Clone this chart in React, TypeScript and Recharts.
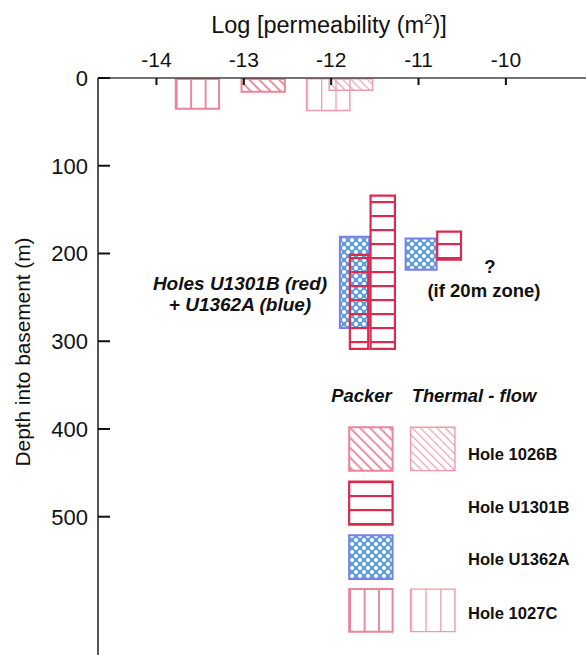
import React from 'react';
import { ScatterChart, Scatter, XAxis, YAxis, ReferenceArea, Customized } from 'recharts';

// axis setup (log permeability, depth)
const xTicks = [-14, -13, -12, -11, -10];
const yTicks = [0, 100, 200, 300, 400, 500];
const xDomain: [number, number] = [-14.669, -9.083];
const yDomain: [number, number] = [0, 657.6];

// measured intervals: log k range (k1..k2) and depth range (d1..d2)
const packer1027C = [{ k1: -13.779, k2: -13.283, d1: 1, d2: 35 }];
const packer1026B = [{ k1: -13.026, k2: -12.53, d1: 1, d2: 15.6 }];
const thermal1027C = [{ k1: -12.282, k2: -11.786, d1: 1, d2: 37 }];
const thermal1026B = [{ k1: -12.023, k2: -11.526, d1: 1, d2: 14 }];
const packerU1362A = [
  { k1: -11.9, k2: -11.565, d1: 181, d2: 285 },
  { k1: -11.148, k2: -10.793, d1: 183, d2: 218.6 },
];
const packerU1301B = [
  { k1: -11.786, k2: -11.576, d1: 201.5, d2: 308.6 },
  { k1: -11.549, k2: -11.27, d1: 134, d2: 308.6 },
  { k1: -10.786, k2: -10.514, d1: 175, d2: 207 },
];

// legend
const legendHoles = ['Hole 1026B', 'Hole U1301B', 'Hole U1362A', 'Hole 1027C'];
const legendDepths = [
  [398, 447.5],
  [460, 509],
  [521, 571],
  [582.5, 631],
];
const legendPackerK: [number, number] = [-11.794, -11.297];
const legendThermalK: [number, number] = [-11.091, -10.583];

const RED = '#d92a50';
const BLUE = '#7a7ff0';
const BLUEFILL = '#629fd6';
const PINK = '#ec8599';
const PINK_T = '#f09aac';

const styles: Record<string, { fill: string; stroke: string; strokeWidth: number }> = {
  p1026: { fill: 'url(#pat1026P)', stroke: PINK, strokeWidth: 2 },
  t1026: { fill: 'url(#pat1026T)', stroke: PINK_T, strokeWidth: 1.4 },
  p1301: { fill: 'url(#pat1301)', stroke: RED, strokeWidth: 2.2 },
  p1362: { fill: 'url(#pat1362)', stroke: BLUE, strokeWidth: 2 },
  p1027: { fill: 'url(#pat1027P)', stroke: PINK, strokeWidth: 2 },
  t1027: { fill: 'url(#pat1027T)', stroke: PINK_T, strokeWidth: 1.4 },
};

const legendPacker = ['p1026', 'p1301', 'p1362', 'p1027'];
const legendThermal = ['t1026', null, null, 't1027'];

const FONT = '"Liberation Sans", Arial, Helvetica, sans-serif';

// anchor points so the axes have data (not drawn)
const anchorPoints = [
  ...packer1027C, ...packer1026B, ...thermal1027C, ...thermal1026B, ...packerU1362A, ...packerU1301B,
].map((b) => ({ k: (b.k1 + b.k2) / 2, d: (b.d1 + b.d2) / 2 }));

const area = (b: { k1: number; k2: number; d1: number; d2: number }, key: string, st: string) => (
  <ReferenceArea
    key={key}
    x1={b.k1}
    x2={b.k2}
    y1={b.d1}
    y2={b.d2}
    fill={styles[st].fill}
    fillOpacity={1}
    stroke={styles[st].stroke}
    strokeWidth={styles[st].strokeWidth}
    ifOverflow="visible"
  />
);

const Texts = () => (
  <g style={{ fontFamily: FONT }}>
    <text x={329} y={33} textAnchor="middle" fontSize={23.5} fill="#111">
      Log [permeability (m<tspan fontSize={15} dy={-9}>2</tspan>
      <tspan dy={9}>)]</tspan>
    </text>
    <text
      x={30}
      y={352}
      textAnchor="middle"
      fontSize={20.8}
      fill="#111"
      transform="rotate(-90 30 352)"
    >
      Depth into basement (m)
    </text>
    <text x={240} y={290} textAnchor="middle" fontSize={19} fontWeight="bold" fontStyle="italic" fill="#111">
      Holes U1301B (red)
    </text>
    <text x={240} y={311} textAnchor="middle" fontSize={19} fontWeight="bold" fontStyle="italic" fill="#111">
      + U1362A (blue)
    </text>
    <text x={490} y={273} textAnchor="middle" fontSize={18.5} fontWeight="bold" fill="#111">
      ?
    </text>
    <text x={484} y={297} textAnchor="middle" fontSize={18.5} fontWeight="bold" fill="#111">
      (if 20m zone)
    </text>
    <text x={361.5} y={402} textAnchor="middle" fontSize={18.4} fontWeight="bold" fontStyle="italic" fill="#111">
      Packer
    </text>
    <text x={474} y={402} textAnchor="middle" fontSize={18.4} fontWeight="bold" fontStyle="italic" fill="#111">
      Thermal - flow
    </text>
    {legendHoles.map((h, i) => (
      <text key={h} x={468} y={[460, 513, 565, 619][i]} fontSize={16.6} fontWeight="bold" fill="#111">
        {h}
      </text>
    ))}
  </g>
);

export default function App() {
  return (
    <div style={{ position: 'absolute', left: 0, top: 0, width: 586, height: 655, background: '#fff' }}>
      <ScatterChart
        width={586}
        height={655}
        margin={{ top: 48, right: 0, bottom: 0, left: 0 }}
        style={{ fontFamily: FONT }}
      >
        <defs>
          <pattern id="pat1026P" patternUnits="userSpaceOnUse" width={7} height={7} patternTransform="rotate(-45)">
            <rect x={0} y={0} width={1.8} height={7} fill={PINK} />
          </pattern>
          <pattern id="pat1026T" patternUnits="userSpaceOnUse" width={5.8} height={5.8} patternTransform="rotate(-45)">
            <rect x={0} y={0} width={1.1} height={5.8} fill={PINK_T} />
          </pattern>
          <pattern id="pat1301" patternUnits="userSpaceOnUse" width={10} height={14}>
            <rect x={0} y={5} width={10} height={2.2} fill={RED} />
          </pattern>
          <pattern id="pat1362" patternUnits="userSpaceOnUse" width={8} height={8}>
            <rect x={0} y={0} width={8} height={8} fill={BLUEFILL} />
            <circle cx={0} cy={0} r={2} fill="#fff" />
            <circle cx={8} cy={0} r={2} fill="#fff" />
            <circle cx={0} cy={8} r={2} fill="#fff" />
            <circle cx={8} cy={8} r={2} fill="#fff" />
            <circle cx={4} cy={4} r={2} fill="#fff" />
          </pattern>
          <pattern id="pat1027P" patternUnits="objectBoundingBox" width={1 / 3} height={1}>
            <rect x={0} y={0} width={1.9} height={1000} fill={PINK} />
          </pattern>
          <pattern id="pat1027T" patternUnits="objectBoundingBox" width={1 / 3} height={1}>
            <rect x={0} y={0} width={1.3} height={1000} fill={PINK_T} />
          </pattern>
        </defs>
        <XAxis
          xAxisId={0}
          dataKey="k"
          type="number"
          orientation="top"
          domain={xDomain}
          ticks={xTicks}
          allowDataOverflow
          height={30}
          tickSize={-7}
          tickMargin={18}
          axisLine={{ stroke: '#444', strokeWidth: 1.6 }}
          tickLine={{ stroke: '#111', strokeWidth: 2 }}
          tick={{ fontSize: 21, fill: '#111' }}
        />
        <YAxis
          yAxisId={0}
          dataKey="d"
          type="number"
          reversed
          domain={yDomain}
          ticks={yTicks}
          allowDataOverflow
          width={98}
          tickSize={-12}
          tickMargin={22}
          axisLine={{ stroke: '#555', strokeWidth: 2 }}
          tickLine={{ stroke: '#111', strokeWidth: 2 }}
          tick={{ fontSize: 22, fill: '#111' }}
        />
        <Scatter data={anchorPoints} isAnimationActive={false} shape={() => <g />} />
        {packer1027C.map((b, i) => area(b, 'p1027' + i, 'p1027'))}
        {packer1026B.map((b, i) => area(b, 'p1026' + i, 'p1026'))}
        {thermal1027C.map((b, i) => area(b, 't1027' + i, 't1027'))}
        {thermal1026B.map((b, i) => area(b, 't1026' + i, 't1026'))}
        {packerU1362A.map((b, i) => area(b, 'p1362' + i, 'p1362'))}
        {packerU1301B.map((b, i) => area(b, 'p1301' + i, 'p1301'))}
        {legendDepths.map(([d1, d2], i) =>
          area({ k1: legendPackerK[0], k2: legendPackerK[1], d1, d2 }, 'lp' + i, legendPacker[i])
        )}
        {legendDepths.map(([d1, d2], i) =>
          legendThermal[i]
            ? area({ k1: legendThermalK[0], k2: legendThermalK[1], d1, d2 }, 'lt' + i, legendThermal[i] as string)
            : null
        )}
        <Customized component={Texts} />
      </ScatterChart>
    </div>
  );
}
